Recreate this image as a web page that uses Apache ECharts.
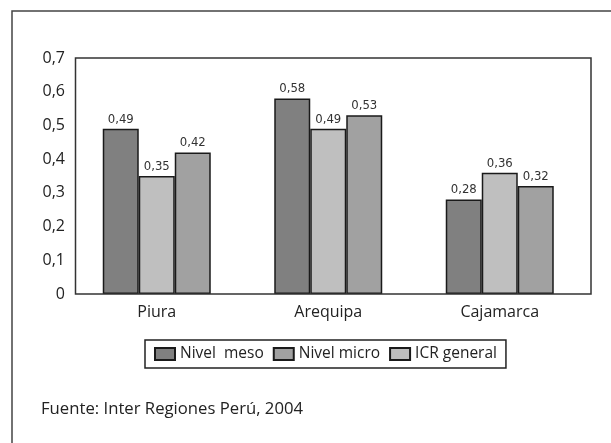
<!DOCTYPE html>
<html>
<head>
<meta charset="utf-8">
<script src="https://cdn.jsdelivr.net/npm/echarts@6/dist/echarts.min.js"></script>
<style>
  html, body { margin: 0; padding: 0; background: #fff; }
  #chart { width: 611px; height: 443px; }
</style>
</head>
<body>
<div id="chart"></div>
<script>
// data
var regions = ['Piura', 'Arequipa', 'Cajamarca'];
var nivelMeso = [0.49, 0.58, 0.28];
var icrGeneral = [0.35, 0.49, 0.36];
var nivelMicro = [0.42, 0.53, 0.32];
var legendNames = ['Nivel  meso', 'Nivel micro', 'ICR general'];
var source = 'Fuente: Inter Regiones Perú, 2004';

var chartDom = document.getElementById('chart');
var myChart = echarts.init(chartDom);

var font = '"Open Sans", "Noto Sans", sans-serif';
var narrow = '"DejaVu Sans Condensed", "Liberation Sans", sans-serif';

function comma(v, d) {
  return v.toFixed(d).replace('.', ',');
}

function barSeries(name, data, color) {
  return {
    name: name,
    type: 'bar',
    data: data,
    barWidth: 36,
    barGap: '0%',
    itemStyle: { color: color, borderColor: '#1a1a1a', borderWidth: 1.5 },
    label: {
      show: true,
      position: 'top',
      distance: 3,
      fontFamily: narrow,
      fontSize: 13,
      color: '#333',
      formatter: function (p) { return comma(p.value, 2); }
    }
  };
}

var option = {
  backgroundColor: '#fff',
  animation: false,
  grid: { left: 71, right: 25.5, top: 58, bottom: 149 },
  legend: {
    data: legendNames,
    left: 145,
    top: 340,
    itemWidth: 20,
    itemHeight: 12,
    itemGap: 9,
    padding: [6, 9, 6, 9],
    borderColor: '#222',
    borderWidth: 1.5,
    icon: 'rect',
    textStyle: { fontFamily: font, fontSize: 15.5, color: '#222' }
  },
  xAxis: {
    type: 'category',
    data: regions,
    axisLine: { show: false },
    axisTick: { show: false },
    axisLabel: { fontFamily: font, fontSize: 16, color: '#222', margin: 10 }
  },
  yAxis: {
    type: 'value',
    min: 0,
    max: 0.7,
    interval: 0.1,
    splitLine: { show: false },
    axisLine: { show: false },
    axisTick: { show: false },
    axisLabel: {
      fontFamily: font, fontSize: 16, color: '#222', margin: 6,
      formatter: function (v) { return v === 0 ? '0' : comma(v, 1); }
    }
  },
  graphic: [
    {
      type: 'rect',
      shape: { x: 12, y: 11, width: 620, height: 450 },
      style: { fill: 'none', stroke: '#444', lineWidth: 1.5 },
      silent: true
    },
    {
      type: 'rect',
      shape: { x: 75.5, y: 58, width: 515.5, height: 236 },
      style: { fill: 'none', stroke: '#333', lineWidth: 1.5 },
      z: 10,
      silent: true
    },
    {
      type: 'text',
      left: 41,
      top: 401,
      style: { text: source, fontFamily: font, fontSize: 16.7, fill: '#222' }
    }
  ],
  series: [
    barSeries(legendNames[0], nivelMeso, '#808080'),
    barSeries(legendNames[2], icrGeneral, '#bfbfbf'),
    barSeries(legendNames[1], nivelMicro, '#a1a1a1')
  ]
};

option && myChart.setOption(option);
</script>
</body>
</html>
